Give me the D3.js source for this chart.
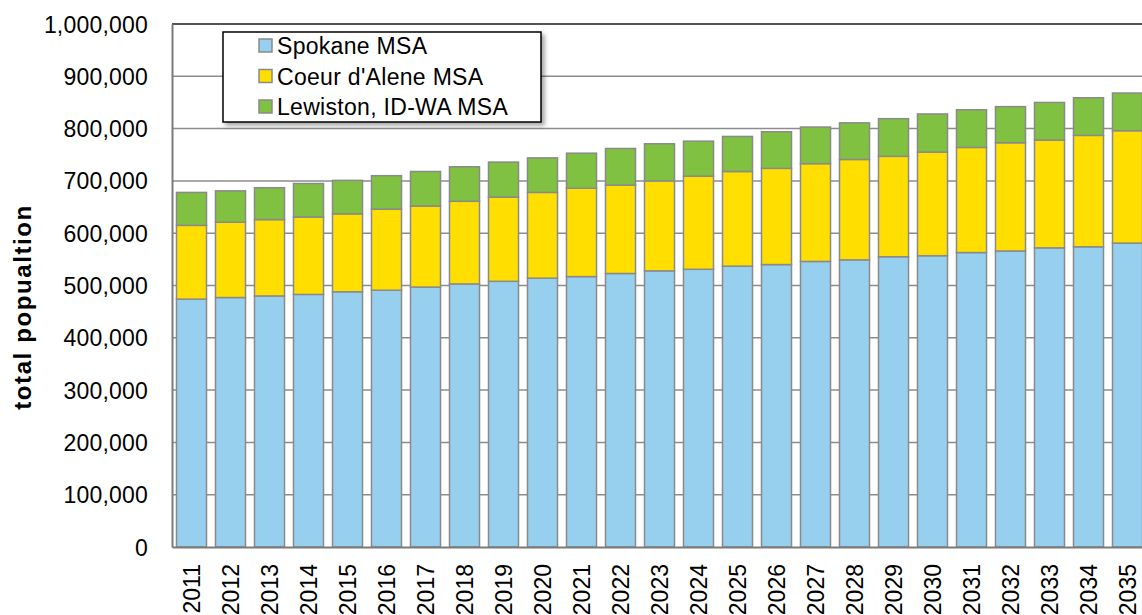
<!DOCTYPE html>
<html>
<head>
<meta charset="utf-8">
<script src="https://cdn.jsdelivr.net/npm/d3@7"></script>
<style>
  body { margin: 0; background: #fff; }
  svg text { font-family: "Liberation Sans", Arial, sans-serif; fill: #000; }
</style>
</head>
<body>
<div id="chartDiv"></div>
<script>
// population in thousands
var years = ["2011","2012","2013","2014","2015","2016","2017","2018","2019","2020","2021","2022","2023",
             "2024","2025","2026","2027","2028","2029","2030","2031","2032","2033","2034","2035"];
var spokane = [474,477,480,483,488,491,497,503,508,514,517,523,528,531,537,540,546,549,555,557,563,566,572,574,581];
var coeur   = [141,144,146,148,149,155,155,158,161,164,169,169,172,178,181,184,187,192,192,198,201,207,206,213,215];
var lewiston= [63,60,61,64,64,64,66,66,67,66,67,70,71,67,67,70,70,70,72,73,72,69,72,72,72];
var seriesNames = ["Spokane MSA", "Coeur d'Alene MSA", "Lewiston, ID-WA MSA"];
var seriesColors = ["#97cfef", "#ffde00", "#80c141"];
var yTicks = [0,100000,200000,300000,400000,500000,600000,700000,800000,900000,1000000];

var swidth = 1142, sheight = 615;
var margin = {top: 24, left: 172, bottom: 68};
var plotW = 975;
var height = sheight - margin.top - margin.bottom;

var svg = d3.select("#chartDiv").append("svg")
    .attr("width", swidth).attr("height", sheight);

var defs = svg.append("defs");
defs.append("filter").attr("id", "shadow")
    .attr("x", "-10%").attr("y", "-10%").attr("width", "130%").attr("height", "140%")
    .append("feDropShadow")
    .attr("dx", 3).attr("dy", 3).attr("stdDeviation", 2)
    .attr("flood-color", "#000").attr("flood-opacity", 0.35);

var g = svg.append("g").attr("transform", "translate(" + margin.left + "," + margin.top + ")");

var x = d3.scaleBand().domain(years).range([0, plotW]).paddingInner(0.23).paddingOuter(0.115);
var y = d3.scaleLinear().domain([0, 1000000]).range([height, 0]);

// gridlines
g.append("g").selectAll("line").data(yTicks.slice(1, -1)).enter().append("line")
    .attr("x1", 0).attr("x2", plotW)
    .attr("y1", d => y(d)).attr("y2", d => y(d))
    .attr("stroke", "#8c8c8c").attr("stroke-width", 1.5);

// top border
g.append("line").attr("x1", 0).attr("x2", plotW).attr("y1", 0).attr("y2", 0)
    .attr("stroke", "#1a1a1a").attr("stroke-width", 1.5);

var data = years.map(function (yr, i) {
    return {year: yr, spokane: spokane[i] * 1000, coeur: coeur[i] * 1000, lewiston: lewiston[i] * 1000};
});
var stack = d3.stack().keys(["spokane", "coeur", "lewiston"])(data);

g.selectAll(".layer").data(stack).enter().append("g")
    .attr("fill", (d, i) => seriesColors[i])
    .selectAll("rect").data(d => d).enter().append("rect")
    .attr("x", d => x(d.data.year))
    .attr("y", d => y(d[1]))
    .attr("width", x.bandwidth())
    .attr("height", d => y(d[0]) - y(d[1]))
    .attr("stroke", "#8a8a8a").attr("stroke-width", 1.5);

// y axis
var yAxis = g.append("g")
    .call(d3.axisLeft(y).tickValues(yTicks).tickSize(0).tickPadding(24)
        .tickFormat(d => d === 0 ? "0" : d3.format(",")(d)));
yAxis.select(".domain").attr("stroke", "#7a7a7a").attr("stroke-width", 2);
yAxis.selectAll("text").style("font-size", "23px").style("letter-spacing", "0.2px").attr("dy", "0.35em");

// x axis
var xAxis = g.append("g").attr("transform", "translate(0," + height + ")")
    .call(d3.axisBottom(x).tickSize(0).tickSizeOuter(0));
xAxis.select(".domain").attr("stroke", "#7a7a7a").attr("stroke-width", 2);
xAxis.selectAll("text")
    .style("font-size", "23px")
    .attr("transform", "translate(0,17)rotate(-90)")
    .attr("x", 0).attr("y", 0).attr("dy", "0.35em")
    .style("text-anchor", "end");

// y title
svg.append("text")
    .attr("transform", "translate(31,307)rotate(-90)")
    .style("text-anchor", "middle")
    .style("font-size", "24px").style("font-weight", "bold").style("letter-spacing", "1.6px")
    .text("total popualtion");

// legend
var legend = svg.append("g").attr("transform", "translate(223,32)");
legend.append("rect").attr("width", 318).attr("height", 90)
    .attr("fill", "#fff").attr("stroke", "#000").attr("stroke-width", 1.5)
    .attr("filter", "url(#shadow)");
var items = legend.selectAll(".item").data(seriesNames).enter().append("g")
    .attr("transform", (d, i) => "translate(36," + (7 + i * 30.5) + ")");
items.append("rect").attr("width", 13).attr("height", 13)
    .attr("fill", (d, i) => seriesColors[i]).attr("stroke", "#8a8a8a").attr("stroke-width", 1.5);
items.append("text").attr("x", 18).attr("y", 7).attr("dy", "0.35em")
    .style("font-size", "23px").style("letter-spacing", "0.3px").text(d => d);
</script>
</body>
</html>
